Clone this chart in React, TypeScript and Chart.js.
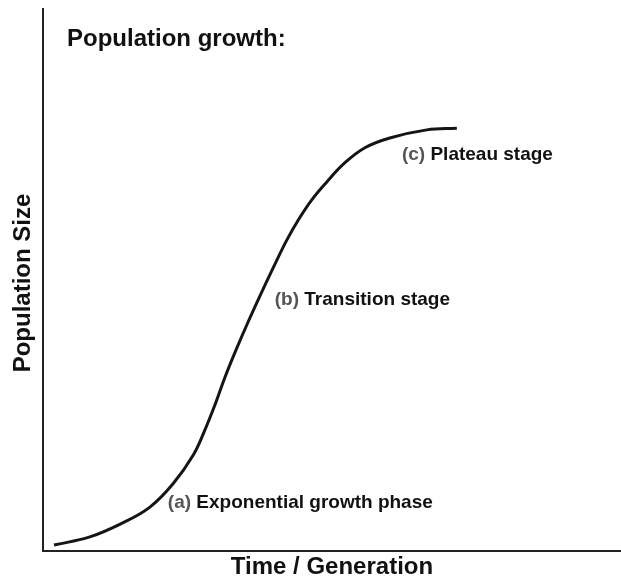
import React, { useEffect, useRef } from "react";
import { Chart, registerables } from "chart.js";

Chart.register(...registerables);

// Time (generation) and population values (0–100 arbitrary units)
const timeValues = [1.9, 8.1, 13.8, 18.5, 22.5, 26.0, 28.0, 29.8, 31.5, 33.4, 35.5, 37.5, 39.8, 42.2, 44.3, 46.5, 49.1, 52.2, 55.7, 60.0, 66.4, 71.6];
const populationValues = [1.1, 2.6, 5.2, 8.1, 12.4, 17.7, 22.3, 27.1, 32.1, 37.1, 42.3, 47.0, 52.2, 57.4, 61.3, 64.8, 68.1, 71.6, 74.4, 76.2, 77.7, 78.0];

const chartTitle = "Population growth:";
const xAxisTitle = "Time / Generation";
const yAxisTitle = "Population Size";

// Stage annotations
const stagePrefixes = ["(a)", "(b)", "(c)"];
const stageNames = ["Exponential growth phase", "Transition stage", "Plateau stage"];
const stageX = [21.6, 40.1, 62.1];
const stageY = [8.9, 46.3, 73.1];

const FONT = "'Liberation Sans', Arial, Helvetica, sans-serif";

const textPlugin = {
  id: "textPlugin",
  afterDraw(chart: any) {
    const ctx = chart.ctx as CanvasRenderingContext2D;
    const area = chart.chartArea;
    const xs = chart.scales.x;
    const ys = chart.scales.y;
    ctx.save();
    ctx.textBaseline = "middle";

    // main title inside plot
    ctx.fillStyle = "#111";
    ctx.font = `bold 24px ${FONT}`;
    ctx.textAlign = "left";
    ctx.fillText(chartTitle, area.left + 24, area.top + 30);

    // stage labels
    ctx.font = `bold 19px ${FONT}`;
    for (let i = 0; i < stageNames.length; i++) {
      const px = xs.getPixelForValue(stageX[i]);
      const py = ys.getPixelForValue(stageY[i]);
      ctx.fillStyle = "#555";
      ctx.fillText(stagePrefixes[i], px, py);
      const w = ctx.measureText(stagePrefixes[i] + " ").width;
      ctx.fillStyle = "#111";
      ctx.fillText(stageNames[i], px + w, py);
    }

    // axis titles
    ctx.fillStyle = "#111";
    ctx.font = `bold 24px ${FONT}`;
    ctx.textAlign = "center";
    ctx.fillText(xAxisTitle, (area.left + area.right) / 2 + 0, area.bottom + 16);

    ctx.translate(area.left - 20, (area.top + area.bottom) / 2 + 3);
    ctx.rotate(-Math.PI / 2);
    ctx.fillText(yAxisTitle, 0, 0);
    ctx.restore();
  },
};

export default function App() {
  const canvasRef = useRef<HTMLCanvasElement | null>(null);

  useEffect(() => {
    if (!canvasRef.current) return;
    const chart = new Chart(canvasRef.current, {
      type: "line",
      data: {
        datasets: [
          {
            data: timeValues.map((t, i) => ({ x: t, y: populationValues[i] })),
            borderColor: "#151515",
            borderWidth: 3,
            pointRadius: 0,
            fill: false,
            tension: 0.4,
          },
        ],
      },
      options: {
        animation: false,
        responsive: false,
        devicePixelRatio: 1,
        layout: { padding: { left: 43, top: 9, bottom: 27, right: 0 } },
        plugins: { legend: { display: false }, tooltip: { enabled: false }, title: { display: false } },
        scales: {
          x: {
            type: "linear",
            min: 0,
            max: 100,
            ticks: { display: false },
            grid: { display: false, drawTicks: false },
            border: { display: true, color: "#222", width: 2 },
          },
          y: {
            type: "linear",
            min: 0,
            max: 100,
            ticks: { display: false },
            grid: { display: false, drawTicks: false },
            border: { display: true, color: "#222", width: 2 },
          },
        },
      },
      plugins: [textPlugin],
    });
    return () => chart.destroy();
  }, []);

  return (
    <div style={{ position: "absolute", left: 0, top: 0, width: 621, height: 578, background: "#fff" }}>
      <canvas ref={canvasRef} width={621} height={578} />
    </div>
  );
}
